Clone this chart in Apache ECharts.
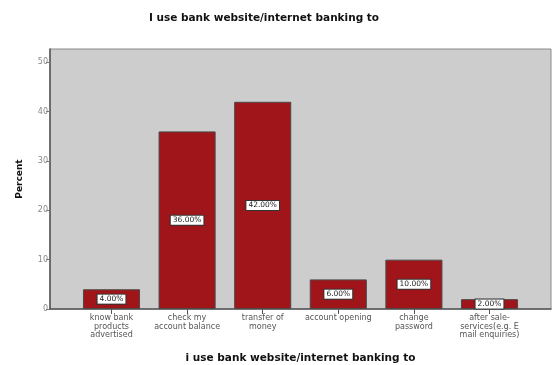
<!DOCTYPE html>
<html>
<head>
<meta charset="utf-8">
<script src="https://cdn.jsdelivr.net/npm/echarts@6/dist/echarts.min.js"></script>
<style>html,body{margin:0;padding:0;background:#fff}#c{width:560px;height:365px}</style>
</head>
<body>
<div id="c"></div>
<script>
var categories = ["know bank\nproducts\nadvertised", "check my\naccount balance", "transfer of\nmoney", "account opening", "change\npassword", "after sale-\nservices(e.g. E\nmail enquiries)"];
var percentValues = [4, 36, 42, 6, 10, 2];
var yTicks = [0, 10, 20, 30, 40, 50];
var titleText = "I use bank website/internet banking to";
var xAxisTitle = "i use bank website/internet banking to";
var yAxisTitle = "Percent";

var FONT = "DejaVu Sans, sans-serif";
var YMAX = 52.7;
var chart = echarts.init(document.getElementById('c'), null, {renderer: 'canvas'});
chart.setOption({
  animation: false,
  backgroundColor: '#ffffff',
  title: {
    text: titleText, left: 259, top: 8, textAlign: 'center',
    textStyle: {fontFamily: FONT, fontSize: 10.5, fontWeight: 'bold', color: '#111'}
  },
  grid: [
    {left: 50, top: 49, width: 501, height: 260, show: true, backgroundColor: '#cdcdcd', borderColor: '#8a8a8a', borderWidth: 1, outerBoundsMode: 'none', containLabel: false},
    {left: 73.7, top: 49, width: 453.6, height: 260, show: false, outerBoundsMode: 'none', containLabel: false}
  ],
  xAxis: [
    {gridIndex: 0, type: 'value', min: 0, max: 1,
     axisLine: {show: true, lineStyle: {color: '#555', width: 1.5}},
     axisTick: {show: false}, axisLabel: {show: false}, splitLine: {show: false}},
    {gridIndex: 1, type: 'category', data: categories,
     name: xAxisTitle, nameLocation: 'middle', nameGap: 44,
     nameTextStyle: {fontFamily: FONT, fontSize: 10.5, fontWeight: 'bold', color: '#111'},
     axisLine: {show: false},
     axisTick: {show: true, alignWithLabel: true, length: 5, lineStyle: {color: '#555'}},
     axisLabel: {fontFamily: FONT, fontSize: 8, color: '#555', lineHeight: 8.5, margin: 5, interval: 0}}
  ],
  yAxis: [
    {gridIndex: 0, type: 'value', min: 0, max: YMAX, interval: 10,
     name: yAxisTitle, nameLocation: 'middle', nameGap: 26,
     nameTextStyle: {fontFamily: FONT, fontSize: 9, fontWeight: 'bold', color: '#111'},
     axisLine: {show: true, lineStyle: {color: '#555', width: 1.5}},
     axisTick: {show: true, length: 4, lineStyle: {color: '#777'}, customValues: yTicks},
     axisLabel: {fontFamily: FONT, fontSize: 8, color: '#888', margin: 2, customValues: yTicks},
     splitLine: {show: false}},
    {gridIndex: 1, type: 'value', min: 0, max: YMAX, show: false, splitLine: {show: false}}
  ],
  series: [{
    type: 'bar', xAxisIndex: 1, yAxisIndex: 1,
    data: percentValues, barWidth: '75.5%',
    itemStyle: {color: '#a01519', borderColor: '#4a4a4a', borderWidth: 1},
    label: {
      show: true, position: 'inside',
      formatter: function (p) { return p.value.toFixed(2) + '%'; },
      fontFamily: FONT, fontSize: 7.5, color: '#222',
      backgroundColor: '#ffffff', borderColor: '#333', borderWidth: 1, padding: [1, 2, 0, 2]
    }
  }]
});
</script>
</body>
</html>
